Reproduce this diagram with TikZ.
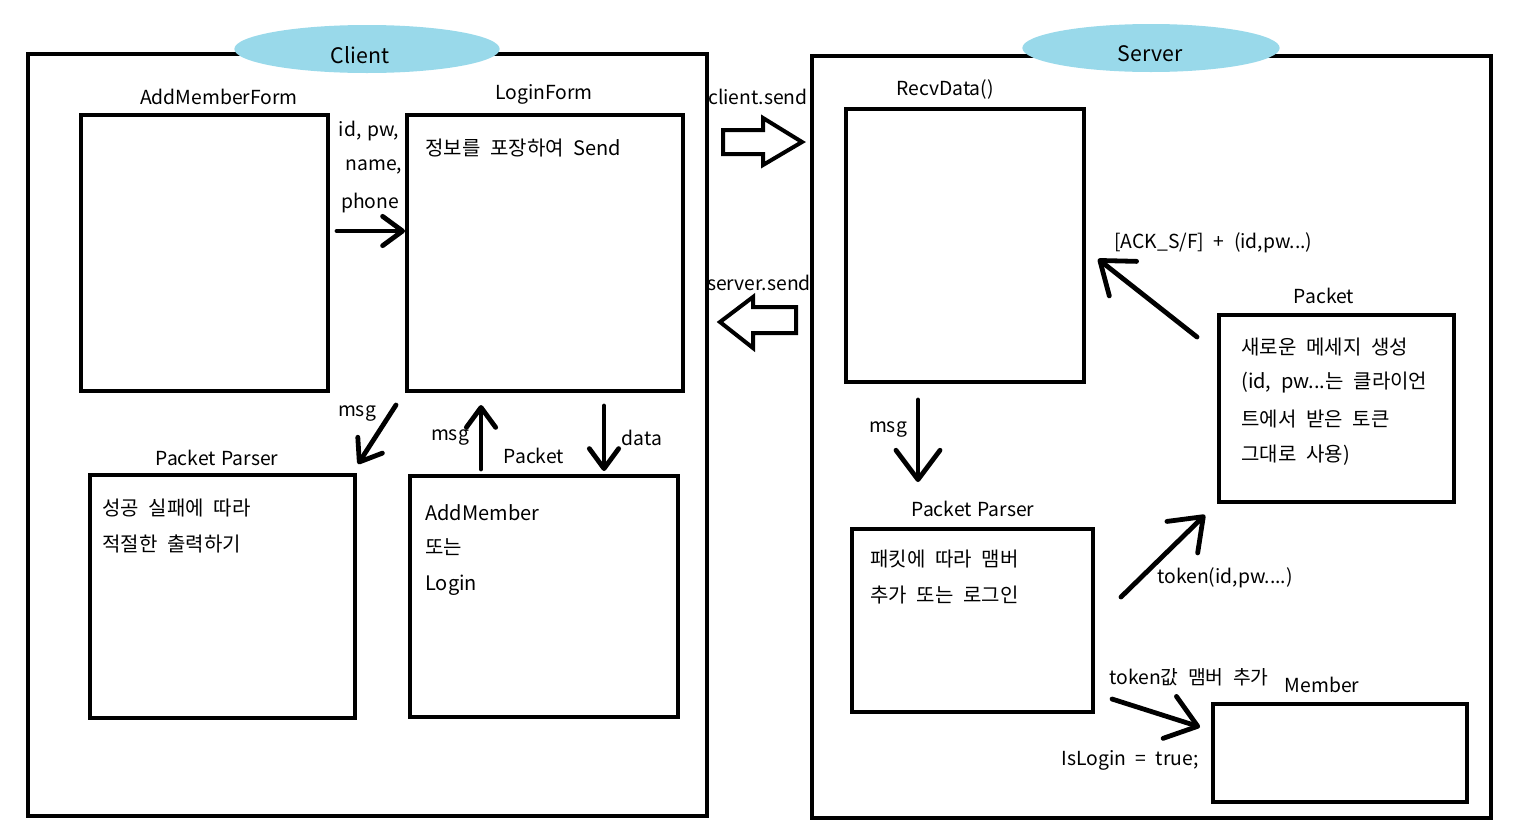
\documentclass[tikz,border=0pt]{standalone}
\usepackage{fontspec}
\setmainfont[WordSpace=2.2]{Noto Sans CJK KR}
\newfontfamily\lblfont[WordSpace=1.3]{Noto Sans CJK KR}
\usetikzlibrary{arrows.meta,shapes.geometric,fit}
\definecolor{skyb}{HTML}{99D9EA}
\begin{document}
\begin{tikzpicture}[x=0.75pt,y=-0.75pt,
  box/.style={draw, line width=3pt, inner sep=0pt},
  lbl/.style={font=\lblfont\fontsize{14.5}{17}\selectfont, inner sep=0pt},
  wlbl/.style={font=\fontsize{14.5}{17}\selectfont, inner sep=0pt},
  txt/.style={font=\fontsize{15}{18}\selectfont, inner sep=0pt, anchor=west},
  arrc/.style={line width=3.6pt, line cap=round, -{Straight Barb[length=15pt,width=22pt,round]}},
  arrs/.style={line width=3.6pt, line cap=round, -{Straight Barb[length=22pt,width=33pt,round]}},
  blk/.style={draw, line width=3pt, fill=white, line join=miter},
  cloud/.style={ellipse, fill=skyb, minimum width=199pt, minimum height=36pt, inner sep=0pt},
  title/.style={font=\fontsize{16}{19}\selectfont, inner sep=0pt}
]
\useasboundingbox (0,0) rectangle (1540,839);

% outer frames
\node[box, fit={(28,54)(707,816)}] (client) {};
\node[box, fit={(812,56)(1491,818)}] (server) {};
\node[cloud] (clientE) at (367,49) {};
\node[cloud, minimum width=193pt] (serverE) at (1151,48) {};
\node[title] (clientT) at (360,55) {Client};
\node[title] (serverT) at (1150,54) {Server};

% client boxes
\node[box, fit={(81,115)(328,391)}] (addform) {};
\node[lbl] (addformL) at (219,97) {AddMemberForm};
\node[box, fit={(407,115)(683,391)}] (login) {};
\node[lbl] (loginL) at (544,94) {LoginForm};
\node[txt] (loginT) at (425,148) {정보를 포장하여 Send};

\node[box, fit={(90,475)(355,718)}] (cparser) {};
\node[lbl] (cparserL) at (217,458) {Packet Parser};
\node[txt] (cparserT1) at (102,508) {성공 실패에 따라};
\node[txt] (cparserT2) at (102,544) {적절한 출력하기};

\node[box, fit={(410,476)(678,717)}] (cpacket) {};
\node[lbl] (cpacketL) at (534,456) {Packet};
\node[txt] (cpacketT1) at (425,513) {AddMember};
\node[txt] (cpacketT2) at (425,547) {또는};
\node[txt] (cpacketT3) at (425,585) {Login};

% client arrows
\node[lbl] (l1) at (369,131) {id, pw,};
\node[lbl] (l2) at (374,167) {name,};
\node[lbl] (l3) at (370,203) {phone};
\coordinate (a1s) at (337,231);
\draw[arrc] (a1s) -- (login.west |- a1s);

\coordinate (a2s) at (396,405);
\coordinate (a2e) at (358,464);
\draw[arrc] (a2s) -- (a2e);
\node[lbl] (l4) at (357,414) {msg};

\coordinate (a3s) at (481,469);
\coordinate (a3e) at (481,405);
\draw[arrc] (a3s) -- (a3e);
\node[lbl] (l5) at (450,438) {msg};

\coordinate (a4s) at (604,406);
\coordinate (a4e) at (604,471);
\draw[arrc] (a4s) -- (a4e);
\node[lbl] (l6) at (642,438) {data};

% block arrows
\node[lbl] (csend) at (758,97) {client.send};
\draw[blk] (723,130) -- (763,130) -- (763,118) -- (802,142) -- (763,165) -- (763,154) -- (723,154) -- cycle;
\node[lbl] (ssend) at (759,283) {server.send};
\draw[blk] (796,307) -- (753,307) -- (753,297) -- (720,322) -- (753,348) -- (753,333) -- (796,333) -- cycle;

% server boxes
\node[box, fit={(846,109)(1084,382)}] (recv) {};
\node[lbl] (recvL) at (945,89) {RecvData()};

\node[box, fit={(852,529)(1093,712)}] (sparser) {};
\node[lbl] (sparserL) at (973,509) {Packet Parser};
\node[txt] (sparserT1) at (870,559) {패킷에 따라 맴버};
\node[txt] (sparserT2) at (870,595) {추가 또는 로그인};

\node[box, fit={(1219,315)(1454,502)}] (spacket) {};
\node[lbl] (spacketL) at (1324,296) {Packet};
\node[txt] (spacketT1) at (1241,347) {새로운 메세지 생성};
\node[txt] (spacketT2) at (1241,383) {(id, pw...는 클라이언};
\node[txt] (spacketT3) at (1241,419) {트에서 받은 토큰};
\node[txt] (spacketT4) at (1241,455) {그대로 사용)};

\node[box, fit={(1213,704)(1467,802)}] (member) {};
\node[lbl] (memberL) at (1322,685) {Member};

% server arrows
\coordinate (b1s) at (918,400);
\coordinate (b1e) at (918,482);
\draw[arrs] (b1s) -- (b1e);
\node[lbl] (m1) at (888,430) {msg};

\coordinate (b2s) at (1197,337);
\coordinate (b2e) at (1098,259);
\draw[arrs] (b2s) -- (b2e);
\node[wlbl, anchor=west] (m2) at (1114,243) {[ACK\_S/F] + (id,pw...)};

\coordinate (b3s) at (1121,597);
\coordinate (b3e) at (1205,515);
\draw[arrs] (b3s) -- (b3e);
\node[lbl] (m3) at (1225,578) {token(id,pw....)};

\coordinate (b4s) at (1112,699);
\coordinate (b4e) at (1200,727);
\draw[arrs] (b4s) -- (b4e);
\node[wlbl] (m4) at (1189,677) {token값 맴버 추가};
\node[wlbl] (m5) at (1130,760) {IsLogin = true;};
\end{tikzpicture}
\end{document}
